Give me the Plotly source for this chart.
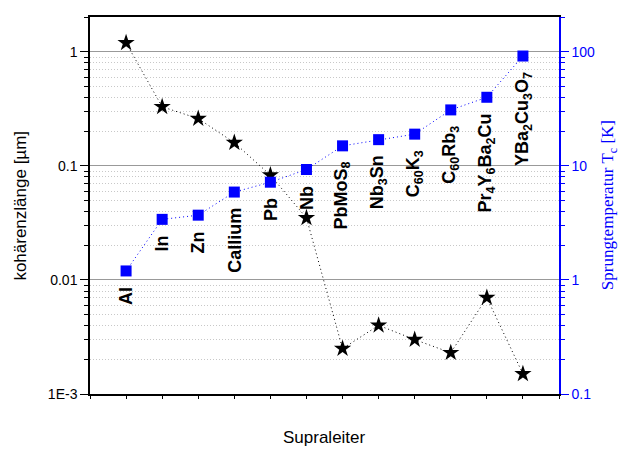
import numpy as np
import plotly.graph_objects as go

labels = ["Al", "In", "Zn", "Callium", "Pb", "Nb", "PbMoS<sub>8</sub>", "Nb<sub>3</sub>Sn",
          "C<sub>60</sub>K<sub>3</sub>", "C<sub>60</sub>Rb<sub>3</sub>",
          "Pr<sub>4</sub>Y<sub>6</sub>Ba<sub>2</sub>Cu", "YBa<sub>2</sub>Cu<sub>3</sub>O<sub>7</sub>"]
coherence_um = [1.2, 0.33, 0.26, 0.16, 0.083, 0.035, 0.0025, 0.0040, 0.0030, 0.0023, 0.0070, 0.0015]
tc_K = [1.2, 3.4, 3.7, 5.9, 7.2, 9.3, 15, 17, 19, 31, 40, 92]
left_ticks = [1, 0.1, 0.01, 0.001]
left_ticktext = ["1", "0.1", "0.01", "1E-3"]
right_ticks = [100, 10, 1, 0.1]
right_ticktext = ["100", "10", "1", "0.1"]

x = list(range(len(labels)))
FONT = "Arial, Liberation Sans, sans-serif"
BLUE = "#0000ff"

fig = go.Figure()
fig.add_trace(go.Scatter(
    x=x, y=coherence_um, mode="lines+markers", yaxis="y",
    line=dict(color="black", width=1, dash="1px,3px"),
    marker=dict(symbol="star", size=13, color="black"),
    showlegend=False))
fig.add_trace(go.Scatter(
    x=x, y=tc_K, mode="lines+markers", yaxis="y2",
    line=dict(color=BLUE, width=1, dash="1px,3px"),
    marker=dict(symbol="square", size=11, color=BLUE),
    showlegend=False))

for xi, lab, t in zip(x, labels, tc_K):
    fig.add_annotation(x=xi, y=np.log10(t), xref="x", yref="y2", text=lab,
                       showarrow=False, textangle=-90, xanchor="center", yanchor="top",
                       yshift=-14, font=dict(family=FONT, size=18, color="black", weight="bold"))

fig.add_annotation(x=0.5, y=-0.115, xref="paper", yref="paper", text="Supraleiter",
                   showarrow=False, xanchor="center", yanchor="middle",
                   font=dict(family=FONT, size=17, color="black"))
fig.add_annotation(x=-0.149, y=0.5, xref="paper", yref="paper", text="kohärenzlänge [µm]",
                   showarrow=False, textangle=-90, xanchor="center", yanchor="middle",
                   font=dict(family=FONT, size=17, color="black"))
fig.add_annotation(x=1.106, y=0.5, xref="paper", yref="paper", text="Sprungtemperatur T<sub>c</sub> [K]",
                   showarrow=False, textangle=-90, xanchor="center", yanchor="middle",
                   font=dict(family="Liberation Serif, Times New Roman, serif", size=17, color=BLUE))

fig.update_layout(
    width=621, height=449,
    margin=dict(l=90, r=62, t=17, b=55),
    plot_bgcolor="white", paper_bgcolor="white",
    xaxis=dict(range=[-1, 12], tickvals=list(range(-1, 13)), showticklabels=False,
               ticks="outside", ticklen=3, tickcolor="black",
               showline=True, linecolor="black", linewidth=1.5, mirror=True,
               showgrid=False, zeroline=False),
    yaxis=dict(type="log", range=[-3, 0.306], tickvals=left_ticks, ticktext=left_ticktext,
               ticks="outside", ticklen=8, tickcolor="black", tickwidth=1,
               showline=True, linecolor="black", linewidth=1.5,
               showgrid=True, gridcolor="#999999", gridwidth=1,
               tickfont=dict(family=FONT, size=14, color="black"),
               minor=dict(dtick="D1", ticks="outside", ticklen=4, tickcolor="black",
                          showgrid=True, gridcolor="#c8c8c8", griddash="1px,2px", gridwidth=1),
               zeroline=False),
    yaxis2=dict(type="log", range=[-1, 2.306], overlaying="y", side="right",
                tickvals=right_ticks, ticktext=right_ticktext,
                ticks="outside", ticklen=8, tickcolor=BLUE, tickwidth=1,
                showline=True, linecolor=BLUE, linewidth=1.5, showgrid=False,
                tickfont=dict(family=FONT, size=14, color=BLUE),
                minor=dict(dtick="D1", ticks="outside", ticklen=4, tickcolor=BLUE, showgrid=False),
                zeroline=False),
)

fig.write_html("out.html")
